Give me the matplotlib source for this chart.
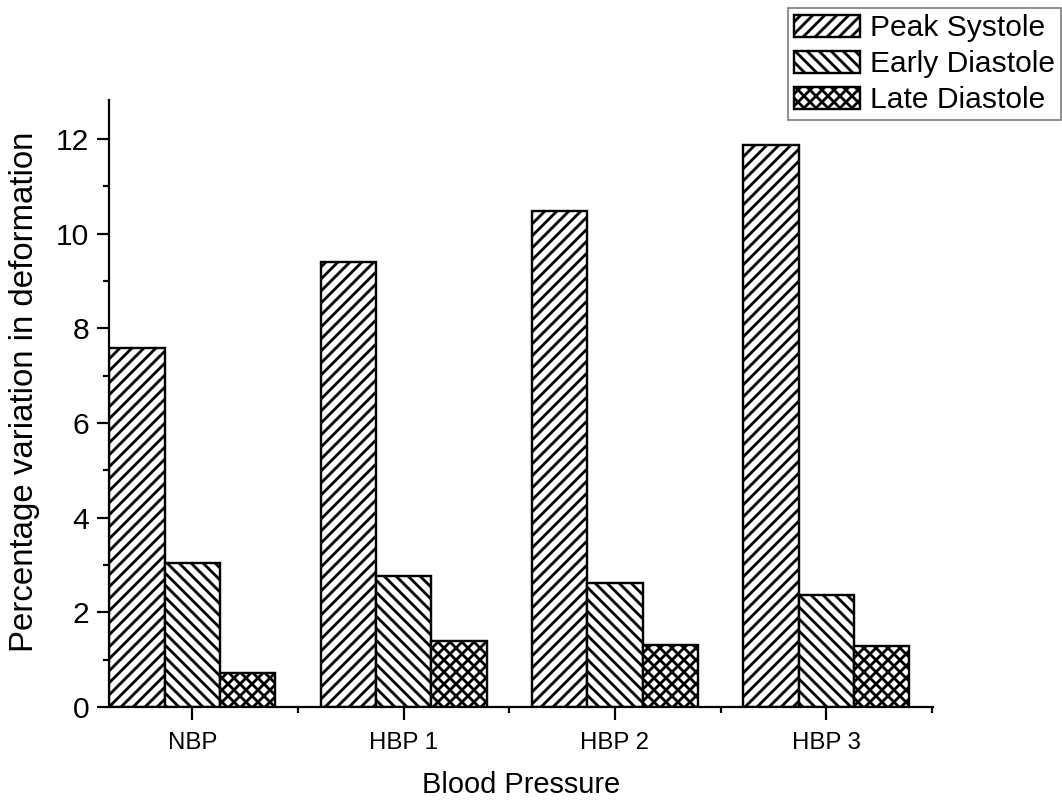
import numpy as np
import matplotlib
matplotlib.use("Agg")
import matplotlib.pyplot as plt
from matplotlib.ticker import MultipleLocator, FixedLocator

# 데이터
categories = ["NBP", "HBP 1", "HBP 2", "HBP 3"]
series_names = ["Peak Systole", "Early Diastole", "Late Diastole"]
peak_systole = [7.58, 9.39, 10.47, 11.87]
early_diastole = [3.04, 2.77, 2.61, 2.37]
late_diastole = [0.72, 1.40, 1.32, 1.29]

plt.rcParams['font.family'] = ['Liberation Sans', 'DejaVu Sans']
plt.rcParams['hatch.linewidth'] = 1.4
plt.rcParams['hatch.color'] = 'black'

DPI = 144
fig = plt.figure(figsize=(1062 / DPI, 803 / DPI), dpi=DPI)
ax = fig.add_axes([109 / 1062, 1 - 707 / 803, (933 - 109) / 1062, (707 - 100) / 803])

x = np.arange(len(categories))
width = 0.262
hatches = ['////', '\\\\\\\\', 'xxxx']
all_values = [peak_systole, early_diastole, late_diastole]

for i, (vals, name, h) in enumerate(zip(all_values, series_names, hatches)):
    ax.bar(x + (i - 1) * width, vals, width, color='white', edgecolor='black',
           linewidth=1.2, hatch=h, label=name)

ax.set_xlim(-0.394, 3.505)
ax.set_ylim(0, 12.82)

# 축 스타일
for side in ['top', 'right']:
    ax.spines[side].set_visible(False)
for side in ['left', 'bottom']:
    ax.spines[side].set_linewidth(1.1)

ax.set_xticks(x)
ax.set_xticklabels(categories, fontsize=12)
ax.xaxis.set_minor_locator(FixedLocator([0.5, 1.5, 2.5, 3.5]))
ax.yaxis.set_major_locator(MultipleLocator(2))
ax.yaxis.set_minor_locator(MultipleLocator(1))
ax.tick_params(axis='y', which='major', length=6, width=1.1, labelsize=15, pad=4)
ax.tick_params(axis='y', which='minor', length=3, width=1.1)
ax.tick_params(axis='x', which='major', length=6.5, width=1.1, pad=6)
ax.tick_params(axis='x', which='minor', length=3, width=1.1)

ax.set_xlabel("Blood Pressure", fontsize=14.5)
ax.set_ylabel("Percentage variation in deformation", fontsize=16.5)
ax.xaxis.set_label_coords(0.5, -0.105)
ax.yaxis.set_label_coords(-0.103, 0.52)
ax.yaxis.label.set_va('center')

leg = fig.legend(loc='upper right', bbox_to_anchor=(1061 / 1062, 1 - 8 / 803),
                 bbox_transform=fig.transFigure, fontsize=15, frameon=True,
                 fancybox=False, borderaxespad=0, borderpad=0.2,
                 labelspacing=0.27, handlelength=2.2, handleheight=0.75,
                 handletextpad=0.35)
leg.get_frame().set_edgecolor('#555555')
leg.get_frame().set_linewidth(0.8)

fig.savefig("out.png", dpi=DPI)
